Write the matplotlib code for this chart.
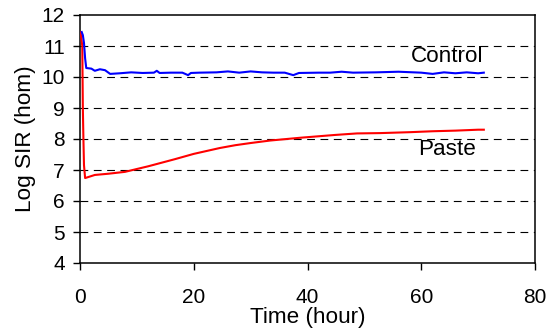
import matplotlib
matplotlib.use("Agg")
import matplotlib.pyplot as plt

plt.rcParams['font.family'] = ['Liberation Sans', 'DejaVu Sans']

control_t = [0.3, 0.5, 0.7, 0.9, 1.1, 2.0, 2.6, 3.5, 4.4, 5.3, 7, 9, 11, 13, 13.5, 14, 16, 18, 19, 19.5,
             21, 24, 26, 28, 30, 32, 34, 36, 37.5, 38.5, 42, 44, 46, 48, 52, 56, 60, 62, 64, 66, 68, 70, 71]
control_v = [11.45, 11.35, 11.1, 10.6, 10.29, 10.27, 10.2, 10.25, 10.22, 10.1, 10.12, 10.15, 10.13, 10.14, 10.2, 10.13, 10.14, 10.14, 10.06, 10.13,
             10.14, 10.15, 10.18, 10.14, 10.18, 10.15, 10.14, 10.14, 10.06, 10.13, 10.14, 10.14, 10.17, 10.14, 10.15, 10.17, 10.14, 10.1, 10.15, 10.12, 10.15, 10.12, 10.14]

paste_t = [0.1, 0.4, 0.5, 0.6, 0.7, 0.9, 2.6, 5, 7.9, 12, 16.7, 20, 24.6, 27.3, 30, 33.4, 38.7, 44.8, 48.7, 52.7, 58, 62, 66, 70, 71]
paste_v = [11.45, 11.0, 9.0, 8.0, 7.16, 6.74, 6.84, 6.88, 6.94, 7.12, 7.35, 7.52, 7.71, 7.8, 7.87, 7.95, 8.04, 8.13, 8.18, 8.19, 8.22, 8.25, 8.27, 8.3, 8.3]

x_ticks = [0, 20, 40, 60, 80]
y_ticks = [4, 5, 6, 7, 8, 9, 10, 11, 12]

fig = plt.figure(figsize=(5.5, 3.3), dpi=100)
ax = fig.add_axes([80/550, 67/330, 455/550, 248/330])

for y in y_ticks[1:-1]:
    ax.axhline(y, color='black', lw=0.8, dashes=(7, 5), zorder=1)

ax.plot(paste_t, paste_v, color='#ff0000', lw=1.5, zorder=3)
ax.plot(control_t, control_v, color='#0000ff', lw=1.5, zorder=3)

ax.text(64.5, 10.65, 'Control', fontsize=16.2, ha='center', va='center')
ax.text(64.5, 7.65, 'Paste', fontsize=16.2, ha='center', va='center')

ax.set_xlim(0, 80)
ax.set_ylim(4, 12)
ax.set_xticks(x_ticks)
ax.set_yticks(y_ticks)
ax.tick_params(direction='out', length=5, width=1, labelsize=15)
ax.tick_params(axis='x', pad=13)
ax.tick_params(axis='y', pad=6)
for s in ax.spines.values():
    s.set_linewidth(1.1)
ax.set_xlabel('Time (hour)', fontsize=16.2, labelpad=0)
ax.set_ylabel('Log SIR (hom)', fontsize=16.2, labelpad=4)

fig.savefig('out.png', dpi=100)
